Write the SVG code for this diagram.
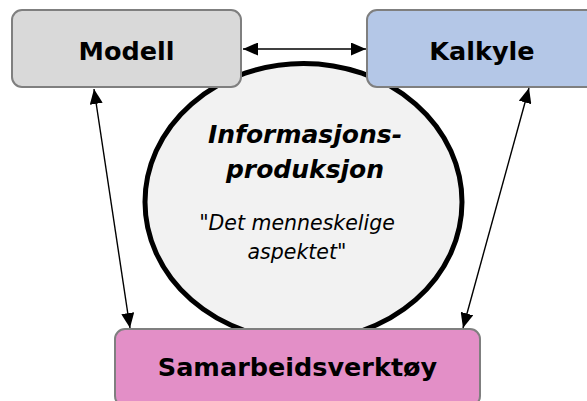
<svg xmlns="http://www.w3.org/2000/svg" width="587" height="401" viewBox="0 0 587 401">
  <style>
    .box { stroke: #7f7f7f; stroke-width: 2; }
    .label { font-family: "DejaVu Sans", Verdana, sans-serif; font-weight: bold; font-size: 25.5px; fill: #000; text-anchor: middle; }
    .core { font-family: "DejaVu Sans", Verdana, sans-serif; font-style: italic; fill: #000; text-anchor: middle; }
    .link { stroke: #000; stroke-width: 1.4; fill: none; marker-start: url(#head); marker-end: url(#head); }
  </style>
  <defs>
    <marker id="head" viewBox="0 0 15 13" refX="15" refY="6.5" markerWidth="15" markerHeight="13" markerUnits="userSpaceOnUse" orient="auto-start-reverse">
      <path d="M0,0 L15,6.5 L0,13 Z" fill="#000"/>
    </marker>
  </defs>

  <!-- central ellipse -->
  <g id="informasjonsproduksjon">
    <ellipse cx="303.5" cy="202" rx="158.5" ry="138.5" fill="#f2f2f2" stroke="#000" stroke-width="5"/>
    <text class="core" x="305" y="143" font-weight="bold" font-size="25">Informasjons-</text>
    <text class="core" x="305" y="178" font-weight="bold" font-size="25">produksjon</text>
    <text class="core" x="297" y="230" font-size="20.5">"Det menneskelige</text>
    <text class="core" x="297" y="259" font-size="20.5">aspektet"</text>
  </g>

  <g id="modell">
    <rect class="box" x="12" y="10" width="229" height="77" rx="10" fill="#d9d9d9"/>
    <text class="label" x="126.5" y="60">Modell</text>
  </g>

  <g id="kalkyle">
    <rect class="box" x="367" y="10" width="230" height="77" rx="10" fill="#b4c7e7"/>
    <text class="label" x="482" y="60">Kalkyle</text>
  </g>

  <g id="samarbeidsverktoy">
    <rect class="box" x="115" y="329" width="365" height="77" rx="10" fill="#e38fc7"/>
    <text class="label" x="297.5" y="376">Samarbeidsverktøy</text>
  </g>

  <!-- two-way connectors -->
  <g id="connectors">
    <path class="link" d="M243,49 L366,49"/>
    <path class="link" d="M94,89 L130,328"/>
    <path class="link" d="M529,88 L463,328"/>
  </g>
</svg>
